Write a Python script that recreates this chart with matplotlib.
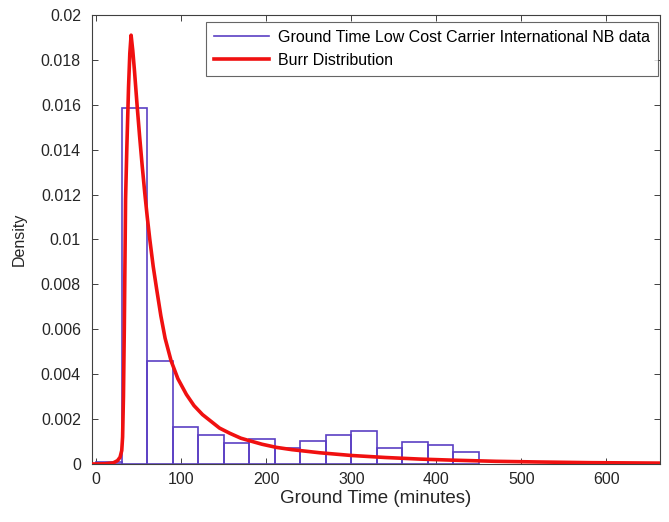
import matplotlib
matplotlib.use("Agg")
import matplotlib.pyplot as plt
import numpy as np

# Histogram of ground times (30-minute bins, density normalised)
bin_edges = [0, 30, 60, 90, 120, 150, 180, 210, 240, 270, 300, 330, 360, 390, 420, 450]
bin_density = [0.0001, 0.01584, 0.00459, 0.00166, 0.00129, 0.00092, 0.0011, 0.00073,
               0.00102, 0.00129, 0.00147, 0.00073, 0.00097, 0.00085, 0.00052]

# Fitted Burr pdf sampled along the time axis
burr_x = [-5, 10, 20, 25, 28, 30, 31, 32, 33, 34.5, 36, 38, 39.5, 41, 43, 45, 48, 51,
          54, 57, 60, 63, 67, 71, 76, 81, 88, 96, 106, 115, 125, 135, 145, 157, 170,
          180, 195, 212, 230, 263, 300, 340, 380, 420, 470, 520, 580, 663]
burr_y = [0, 0.00001, 0.00005, 0.00015, 0.0003, 0.0006, 0.0012, 0.0030, 0.0060, 0.0118,
          0.0141, 0.0168, 0.0183, 0.0191, 0.0184, 0.0175, 0.0160, 0.0146,
          0.0133, 0.0121, 0.0110, 0.0100, 0.0088, 0.0078, 0.0066, 0.0056, 0.0046,
          0.0038, 0.0031, 0.0026, 0.0022, 0.0019, 0.0016, 0.00137, 0.00115,
          0.00104, 0.00088, 0.00074, 0.00064, 0.0005, 0.00038, 0.00029, 0.00022,
          0.00017, 0.00012, 0.00009, 0.00006, 0.00004]

x_ticks = [0, 100, 200, 300, 400, 500, 600]
y_ticks = [0, 0.002, 0.004, 0.006, 0.008, 0.01, 0.012, 0.014, 0.016, 0.018, 0.02]

HIST_COLOR = "#5b3fc4"
FIT_COLOR = "#f01010"
AXIS_COLOR = "#404040"
TEXT_COLOR = "#262626"

plt.rcParams["font.family"] = ["Liberation Sans", "DejaVu Sans"]

fig = plt.figure(figsize=(6.69, 5.22), dpi=100)
ax = fig.add_axes([0.1375, 0.1111, 0.849, 0.8602])

widths = np.diff(bin_edges)
ax.bar(bin_edges[:-1], bin_density, width=widths, align="edge", fill=False,
       edgecolor=HIST_COLOR, linewidth=1.2, zorder=2)
ax.plot(burr_x, burr_y, color=FIT_COLOR, linewidth=2.6, zorder=3,
        solid_joinstyle="round")

# legend proxies
h1, = ax.plot([], [], color=HIST_COLOR, linewidth=1.2)
h2, = ax.plot([], [], color=FIT_COLOR, linewidth=2.6)
leg = ax.legend([h1, h2], ["Ground Time Low Cost Carrier International NB data",
                           "Burr Distribution"],
                loc="upper right", bbox_to_anchor=(0.997, 0.985), fontsize=11.5,
                frameon=True, fancybox=False, handlelength=3.4, borderpad=0.5,
                labelspacing=0.5, handletextpad=0.6, borderaxespad=0.0)
leg.get_frame().set_edgecolor(AXIS_COLOR)
leg.get_frame().set_linewidth(0.8)

ax.set_xlim(-5, 663)
ax.set_ylim(0, 0.02)
ax.set_xticks(x_ticks)
ax.set_yticks(y_ticks)
ax.set_yticklabels([f"{v:g}" for v in y_ticks])
ax.tick_params(direction="in", top=True, right=True, length=4, width=0.7,
               colors=AXIS_COLOR, labelsize=11.5, labelcolor=TEXT_COLOR)
ax.tick_params(axis="x", pad=6)
ax.tick_params(axis="y", pad=8)
for s in ax.spines.values():
    s.set_color(AXIS_COLOR)
    s.set_linewidth(0.8)

ax.set_xlabel("Ground Time (minutes)", fontsize=13.5, color=TEXT_COLOR, labelpad=2)
ax.set_ylabel("Density", fontsize=11.5, color=TEXT_COLOR, labelpad=10)

fig.savefig("out.png", dpi=100)
